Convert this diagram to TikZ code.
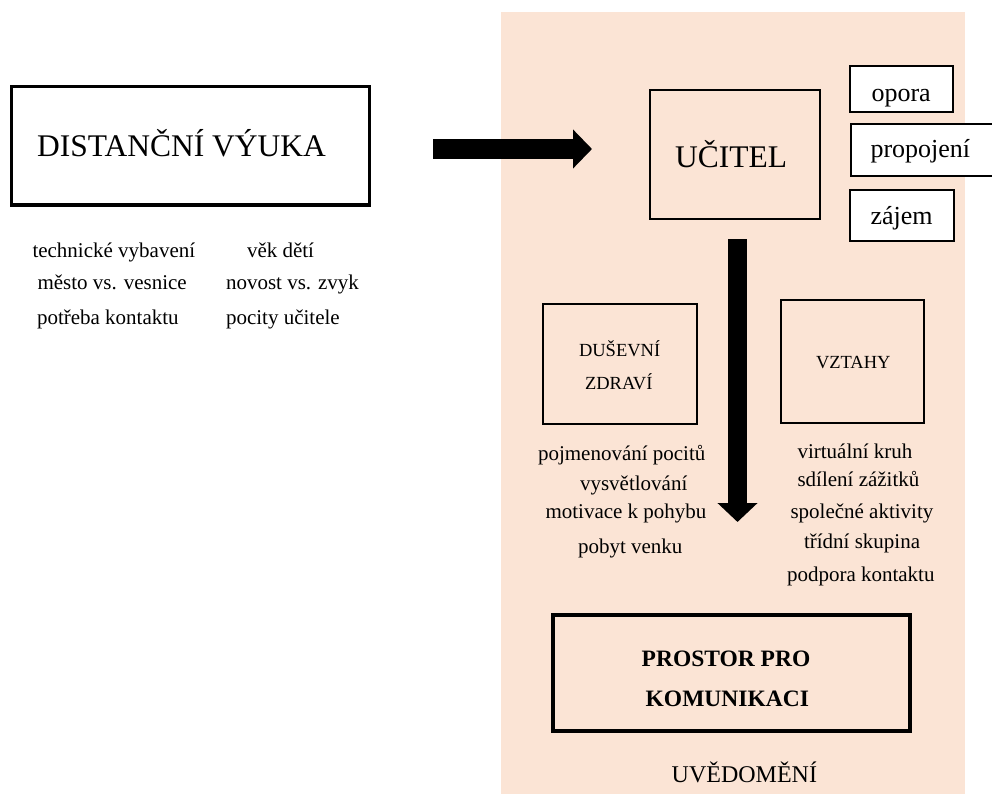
\documentclass[tikz,border=0pt]{standalone}
\usepackage{fontspec}
\setmainfont{Liberation Serif}
\usetikzlibrary{arrows.meta}
\definecolor{pinkbg}{HTML}{FBE4D5}
\tikzset{
  box/.style={draw=black, inner sep=0pt, outer sep=0pt, rectangle},
  txt/.style={inner sep=0pt, outer sep=0pt, anchor=base west, font=\fontsize{21}{25}\selectfont},
  smalltxt/.style={inner sep=0pt, outer sep=0pt, anchor=base west, font=\fontsize{26}{30}\selectfont},
  captxt/.style={inner sep=0pt, outer sep=0pt, anchor=base west, font=\fontsize{18.5}{22}\selectfont},
  bigarrow/.style={line width=20pt, -{Triangle[width=38pt,length=19pt]}},
}
\begin{document}
\begin{tikzpicture}[x=1pt,y=-1pt]
\useasboundingbox (0,0) rectangle (992,794);
\clip (0,0) rectangle (992,794);
\fill[pinkbg] (501,12) rectangle (965,794);

% left box
\node[box, fill=white, line width=3.2pt, minimum width=358pt, minimum height=118.5pt] (dist) at (190.5,145.75) {};
\node[inner sep=0pt, anchor=base west, font=\fontsize{31.5}{36}\selectfont] (distT) at (37,157) {DISTANČNÍ VÝUKA};

\node[txt] (l1) at (32.5,257) {technické vybavení};
\node[txt] (l2) at (37.5,289) {město vs. vesnice};
\node[txt] (l3) at (37,324) {potřeba kontaktu};
\node[txt] (r1) at (247,257) {věk dětí};
\node[txt] (r2) at (226,289) {novost vs. zvyk};
\node[txt] (r3) at (226,324) {pocity učitele};

% horizontal arrow
\coordinate (a1s) at (433,149);
\coordinate (a1e) at (592,149);
\draw[bigarrow] (a1s) -- (a1e);

% teacher
\node[box, line width=2.3pt, minimum width=170pt, minimum height=129pt] (ucitel) at (735,154.5) {};
\node[inner sep=0pt, anchor=base west, font=\fontsize{31.5}{36}\selectfont] (ucitelT) at (675,168) {UČITEL};

\node[box, fill=white, line width=2pt, minimum width=103pt, minimum height=46pt] (opora) at (901.5,89) {};
\node[smalltxt] (oporaT) at (871.5,101.7) {opora};
\node[box, fill=white, line width=2pt, minimum width=146pt, minimum height=52pt] (propojeni) at (924,150) {};
\node[smalltxt] (propojeniT) at (870.5,158) {propojení};
\node[box, fill=white, line width=2pt, minimum width=104pt, minimum height=51pt] (zajem) at (902,215.5) {};
\node[smalltxt] (zajemT) at (870.5,225) {zájem};

% vertical arrow
\coordinate (a2s) at (737.5,239);
\coordinate (a2e) at (737.5,522);
\draw[bigarrow, line width=19.5pt, -{Triangle[width=39pt,length=19pt]}] (a2s) -- (a2e);

% mental health
\node[box, line width=2.5pt, minimum width=154pt, minimum height=120pt] (dusevni) at (620,364) {};
\node[captxt] (dusevniT1) at (579,356.7) {DUŠEVNÍ};
\node[captxt] (dusevniT2) at (585,389) {ZDRAVÍ};
\node[txt] (d1) at (538,460) {pojmenování pocitů};
\node[txt] (d2) at (580,490) {vysvětlování};
\node[txt] (d3) at (545.5,518.3) {motivace k pohybu};
\node[txt] (d4) at (578,553.3) {pobyt venku};

% relations
\node[box, line width=2.5pt, minimum width=143pt, minimum height=123pt] (vztahy) at (852.5,361.5) {};
\node[captxt] (vztahyT) at (816,368.3) {VZTAHY};
\node[txt] (v1) at (797.5,458.3) {virtuální kruh};
\node[txt] (v2) at (797.5,486.7) {sdílení zážitků};
\node[txt] (v3) at (790.5,518.3) {společné aktivity};
\node[txt] (v4) at (804,548.3) {třídní skupina};
\node[txt] (v5) at (787,581.7) {podpora kontaktu};

% communication space
\node[box, line width=4pt, minimum width=357pt, minimum height=116pt] (prostor) at (731.5,673) {};
\node[inner sep=0pt, anchor=base west, font=\fontsize{23.5}{28}\selectfont\bfseries] (prostorT1) at (641.5,666) {PROSTOR PRO};
\node[inner sep=0pt, anchor=base west, font=\fontsize{23.5}{28}\selectfont\bfseries] (prostorT2) at (645.5,706.7) {KOMUNIKACI};
\node[inner sep=0pt, anchor=base west, font=\fontsize{24}{28}\selectfont] (uvedomeni) at (671.5,782.7) {UVĚDOMĚNÍ};
\end{tikzpicture}
\end{document}
